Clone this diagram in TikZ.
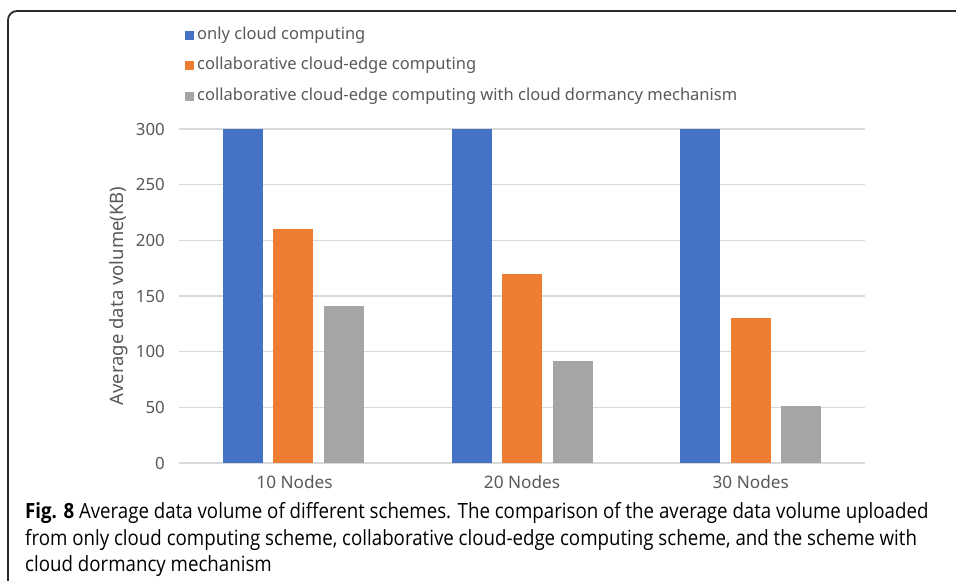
\documentclass[tikz,border=0pt]{standalone}
\usepackage{fontspec}
\setmainfont{Noto Sans}
\newfontfamily\capfont[FakeStretch=0.89]{Open Sans}
\definecolor{cblue}{HTML}{4472C4}
\definecolor{corange}{HTML}{ED7D31}
\definecolor{cgray}{HTML}{A5A5A5}
\definecolor{gridgray}{HTML}{D9D9D9}
\definecolor{labelgray}{HTML}{595959}
\definecolor{framegray}{HTML}{2B2B2B}

% value (KB) -> vertical position in the plot area
\newcommand\yv[1]{463-1.11333*#1}

\begin{document}
\begin{tikzpicture}[x=1pt,y=-1pt,
  framestyle/.style={draw=framegray,line width=1.8pt,rounded corners=9pt},
  gridline/.style={draw=gridgray,line width=1.2pt},
  ticklabel/.style={anchor=east,inner sep=0pt,text=labelgray,font=\fontsize{16.8}{19}\selectfont},
  catlabel/.style={anchor=center,inner sep=0pt,text=labelgray,font=\fontsize{17.2}{19}\selectfont},
  legendtext/.style={anchor=west,inner sep=0pt,text=labelgray,font=\fontsize{16.5}{19}\selectfont},
  captionline/.style={anchor=west,inner sep=0pt,text=black,font=\capfont\fontsize{21}{25}\selectfont}
]
\clip (0,0) rectangle (956,581);

% frame around the figure
\draw[framestyle] (8,620) -- (8,11) -- (990,11);

% horizontal grid lines and tick labels
\foreach \v in {0,50,...,300} {
  \draw[gridline] (179,{\yv{\v}}) -- (865,{\yv{\v}});
  \node[ticklabel] (tick\v) at (165,{\yv{\v}}) {\v};
}

% bars: category centres 293.3, 522, 750.7
\foreach \c/\a/\b/\g [count=\i] in {293.3/300/210/141, 522/300/170/92, 750.7/300/130/51} {
  \fill[cblue]   ({\c-70.5},{\yv{\a}}) rectangle ({\c-30.5},463);
  \fill[corange] ({\c-20},{\yv{\b}})   rectangle ({\c+20},463);
  \fill[cgray]   ({\c+30.7},{\yv{\g}}) rectangle ({\c+70.7},463);
}

% category labels
\node[catlabel] (cat1) at (294.5,482) {10 Nodes};
\node[catlabel] (cat2) at (522,482) {20 Nodes};
\node[catlabel] (cat3) at (750.7,482) {30 Nodes};

% axis title
\node[text=labelgray,font=\fontsize{18.5}{21}\selectfont,rotate=90,inner sep=0pt] (ytitle) at (119,296) {Average data volume(KB)};

% legend
\fill[cblue]   (185,30.5) rectangle (194,39.5);
\fill[corange] (185,61)   rectangle (194,70);
\fill[cgray]   (185,91.5) rectangle (194,100.5);
\node[legendtext] (leg1) at (197,35) {only cloud computing};
\node[legendtext] (leg2) at (197,65.5) {collaborative cloud-edge computing};
\node[legendtext] (leg3) at (197,96) {collaborative cloud-edge computing with cloud dormancy mechanism};

% caption
\node[captionline] (cap1) at (25,513) {\textbf{Fig. 8} Average data volume of different schemes. The comparison of the average data volume uploaded};
\node[captionline] (cap2) at (25,540) {from only cloud computing scheme, collaborative cloud-edge computing scheme, and the scheme with};
\node[captionline] (cap3) at (25,566) {cloud dormancy mechanism};
\end{tikzpicture}
\end{document}
